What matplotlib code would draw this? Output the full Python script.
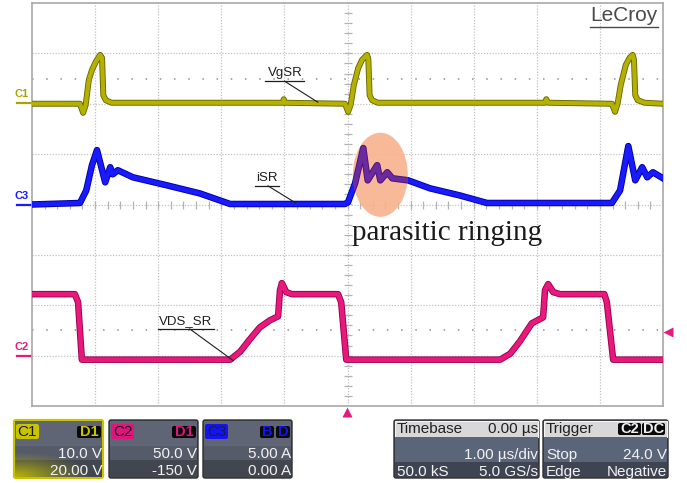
import numpy as np
import matplotlib
matplotlib.use('Agg')
import matplotlib.pyplot as plt
from matplotlib.patches import Ellipse, Rectangle, FancyBboxPatch
import matplotlib.patheffects as pe

plt.rcParams['font.family'] = ['Liberation Sans', 'DejaVu Sans']

# ---------------------------------------------------------------------------
# Waveform data (time in us, trigger at 0)
# ---------------------------------------------------------------------------
# C1: VgSR, gate voltage [V]
c1_t = [-5.0, -4.24, -4.19, -4.15, -4.10, -4.05, -3.99, -3.92, -3.89, -3.87, -3.83, -3.74,
        -1.02, -1.01, -0.99, -0.04, 0.01, 0.05, 0.10, 0.17, 0.23, 0.31, 0.33, 0.35, 0.39, 0.48,
        3.13, 3.15, 3.18, 4.19, 4.24, 4.28, 4.33, 4.41, 4.47, 4.52, 4.54, 4.56, 4.60, 4.71, 5.0]
c1_v = [0.0, 0.0, -1.8, -0.3, 4.7, 6.7, 8.3, 9.7, 9.1, 1.7, 0.7, 0.2,
        0.2, 0.9, 0.2, 0.0, -1.6, -0.2, 3.7, 7.1, 8.7, 9.7, 8.9, 1.7, 0.7, 0.2,
        0.2, 0.9, 0.2, 0.0, -1.6, 0.0, 3.7, 7.7, 9.1, 9.7, 8.7, 1.7, 0.7, 0.2, 0.0]

# C3: iSR, SR current [A]
c3_t = [-5.0, -4.24, -4.14, -4.05, -3.97, -3.84, -3.76, -3.72, -3.64, -3.40, -2.86, -2.34,
        -1.86, -0.04, 0.01, 0.12, 0.25, 0.32, 0.47, 0.52, 0.63, 0.71, 0.96, 1.31, 1.78, 2.21,
        4.19, 4.32, 4.45, 4.56, 4.67, 4.75, 4.84, 5.0]
c3_i = [0.0, 0.15, 1.4, 3.9, 5.4, 2.2, 3.7, 3.0, 3.4, 2.7, 1.9, 1.1,
        0.05, 0.05, 0.25, 2.1, 5.6, 2.4, 3.9, 2.4, 3.2, 2.6, 2.4, 1.6, 0.9, 0.15,
        0.15, 1.4, 5.8, 2.4, 3.7, 2.7, 3.2, 2.6]

# C2: VDS_SR, drain-source voltage [V]
c2_t = [-5.0, -4.32, -4.27, -4.21, -1.86, -1.70, -1.55, -1.39, -1.23, -1.10, -1.07, -1.04,
        -0.97, -0.88, -0.15, -0.10, -0.02, 2.42, 2.58, 2.73, 2.92, 3.10, 3.13, 3.18, 3.26,
        3.37, 4.07, 4.11, 4.21, 5.0]
c2_v = [61, 61, 53, -4, -4, 4, 16, 28, 35, 39, 65, 72,
        63, 61, 61, 53, -4, -4, 2, 14, 32, 38, 65, 71, 63,
        61, 61, 53, -4, -4]

# channel settings: (scale per div, offset)
ch1_scale, ch1_offset = 10.0, 20.0
ch2_scale, ch2_offset = 50.0, -150.0
ch3_scale, ch3_offset = 5.0, 0.0
trig_level = 24.0

# bottom info panels
ch_panels = [('C1', ['D1'], '10.0 V', '20.00 V'),
             ('C2', ['D1'], '50.0 V', '-150 V'),
             ('C3', ['B', 'D'], '5.00 A', '0.00 A')]


def to_div(vals, scale, offset):
    return (np.asarray(vals, dtype=float) + offset) / scale


W, H = 687, 483
fig = plt.figure(figsize=(W / 100, H / 100), dpi=100)

# background axes in pixel units (labels outside the screen, info panels)
bg = fig.add_axes([0, 0, 1, 1])
bg.axis('off')

# scope screen, 10 x 8 divisions
ax = fig.add_axes([32 / W, 1 - 406 / H, 631 / W, 403 / H])
ax.set_xlim(-5, 5)
ax.set_ylim(-4, 4)
ax.set_xticks([])
ax.set_yticks([])
for s in ax.spines.values():
    s.set_color('#a8a8a8')
    s.set_linewidth(1.2)

grid_kw = dict(color='#c2c2c2', lw=0.9, ls=(0, (1, 1.3)), zorder=1)
for gx in range(-4, 5):
    ax.axvline(gx, **grid_kw)
for gy in range(-3, 4):
    ax.axhline(gy, **grid_kw)
for gy in (2.5, -2.5):
    ax.axhline(gy, color='#a8a8a8', lw=1.4, ls=(0, (0.8, 6.5)), zorder=1)

tk = np.arange(-4.8, 4.9, 0.2)
ax.plot(tk, np.zeros_like(tk), ls='none', marker='|', ms=6, mew=0.9, color='#b4b4b4', zorder=1)
tky = np.arange(-3.8, 3.9, 0.2)
ax.plot(np.zeros_like(tky), tky, ls='none', marker='_', ms=6, mew=0.9, color='#b4b4b4', zorder=1)


def trace(x, y, color, edge, lw, z=4):
    line, = ax.plot(x, y, color=color, lw=lw, solid_joinstyle='round', zorder=z,
                    path_effects=[pe.Stroke(linewidth=lw + 1.3, foreground=edge), pe.Normal()])
    return line


trace(c1_t, to_div(c1_v, ch1_scale, ch1_offset), '#b5b100', '#6a6700', 3.0)
c3_div = to_div(c3_i, ch3_scale, ch3_offset)
trace(c3_t, c3_div, '#1a1aff', '#0000a0', 3.4)
trace(c2_t, to_div(c2_v, ch2_scale, ch2_offset), '#e8197d', '#9a0048', 3.4)

# parasitic ringing highlight
ell = Ellipse((0.52, 0.59), 0.87, 1.67, fc='#f7b28c', ec='none', alpha=0.9, zorder=5)
ax.add_patch(ell)
purple = trace(c3_t, c3_div, '#6b2aa0', '#4a1278', 3.4, z=6)
purple.set_clip_path(ell)

ax.text(0.07, -0.70, 'parasitic ringing', family=['Liberation Serif', 'DejaVu Serif'],
        fontsize=21, ha='left', va='baseline', color='#1a1a1a', zorder=7)

# signal labels with leaders
lab_kw = dict(fontsize=9.5, color='#1e1e1e', ha='center', va='bottom', zorder=7)
ax.text(-0.99, 2.49, 'VgSR', **lab_kw)
ax.plot([-1.31, -0.69], [2.45, 2.45], color='#1e1e1e', lw=0.9, zorder=7)
ax.plot([-1.00, -0.47], [2.45, 2.03], color='#1e1e1e', lw=0.8, zorder=7)

ax.text(-1.28, 0.41, 'iSR', **lab_kw)
ax.plot([-1.47, -1.09], [0.37, 0.37], color='#1e1e1e', lw=0.9, zorder=7)
ax.plot([-1.26, -0.82], [0.37, 0.03], color='#1e1e1e', lw=0.8, zorder=7)

ax.text(-2.56, -2.43, 'VDS_SR', **lab_kw)
ax.plot([-3.0, -2.11], [-2.47, -2.47], color='#1e1e1e', lw=0.9, zorder=7)
ax.plot([-2.50, -1.81], [-2.47, -3.10], color='#1e1e1e', lw=0.8, zorder=7)

ax.text(4.92, 3.56, 'LeCroy', fontsize=15, color='#4a4a4a', ha='right', va='bottom', zorder=7)
ax.plot([3.84, 4.92], [3.52, 3.52], color='#4a4a4a', lw=1.0, zorder=7)

# ---------------------------------------------------------------------------
# labels outside the screen (pixel coordinates)
# ---------------------------------------------------------------------------
for name, col, ypix in [('C1', '#a8a400', 103), ('C3', '#1a1aff', 205), ('C2', '#e8197d', 356)]:
    bg.text(22, ypix - 4, name, fontsize=8, fontweight='bold', color=col,
            ha='center', va='bottom')
    bg.plot([17, 32], [ypix, ypix], color=col, lw=1.6)

# trigger level / position markers
bg.plot([668], [332], marker='<', ms=7, color='#e8197d', mec='none')
bg.plot([347], [412], marker='^', ms=7, color='#e8197d', mec='none')

# ---------------------------------------------------------------------------
# info panels
# ---------------------------------------------------------------------------
ch_colors = ['#c8c400', '#e0147c', '#1414f0']
ch_x = [(14, 103), (109, 198), (203, 292)]
y0, y1 = 420, 478
txt_kw = dict(fontsize=11, color='#f2f2f2', va='center')

for (name, badges, v1, v2), col, (x0, x1) in zip(ch_panels, ch_colors, ch_x):
    bg.add_patch(FancyBboxPatch((x0, y0), x1 - x0, y1 - y0, boxstyle='round,pad=0,rounding_size=2',
                                fc='#4e5462', ec=col if name == 'C1' else '#2c2c2c',
                                lw=1.6 if name == 'C1' else 1.0, zorder=2))
    bg.add_patch(Rectangle((x0 + 1, y0 + 1), x1 - x0 - 2, 25, fc='#5f6574', ec='none', zorder=2))
    bg.add_patch(Rectangle((x0 + 1, 446), x1 - x0 - 2, 14, fc='#555b68', ec='none', zorder=2))
    bg.add_patch(Rectangle((x0 + 1, 460), x1 - x0 - 2, y1 - 461, fc='#41464f', ec='none', zorder=2))
    if name == 'C1':
        gx, gy = np.meshgrid(np.linspace(0, 1, 60), np.linspace(0, 1, 40))
        a = np.clip(1 - np.hypot(gx * 1.1, (1 - gy) * 1.5), 0, 1) ** 1.2 * 0.9
        img = np.zeros((40, 60, 4))
        img[..., 0], img[..., 1], img[..., 2], img[..., 3] = 0.78, 0.76, 0.0, a
        bg.imshow(img, extent=[x0 + 1, x1 - 1, y1 - 1, 438], origin='upper', aspect='auto', zorder=3)
    # channel badge
    bg.add_patch(FancyBboxPatch((x0 + 2, 424), 23, 15, boxstyle='round,pad=0,rounding_size=2',
                                fc=col, ec='none', zorder=4))
    bg.text(x0 + 13.5, 431.5, name, fontsize=11, color='#1a1a40' if name == 'C3' else '#1a1a1a',
            ha='center', va='center', zorder=5)
    # source badges
    bx = x1 - 2
    for b in reversed(badges):
        bw = 24 if len(b) == 2 else 14
        bg.add_patch(FancyBboxPatch((bx - bw, 426), bw, 12, boxstyle='round,pad=0,rounding_size=2',
                                    fc='#0a0a0a', ec='none', zorder=4))
        bg.text(bx - bw / 2, 432, b, fontsize=10.5, color=col, ha='center', va='center',
                fontweight='bold', zorder=5)
        bx -= bw + 2
    bg.text(x1 - 1, 454, v1, ha='right', zorder=5, **txt_kw)
    bg.text(x1 - 1, 471, v2, ha='right', zorder=5, **txt_kw)


def info_panel(x0, x1, head_l, head_r, rows):
    bg.add_patch(FancyBboxPatch((x0, y0), x1 - x0, y1 - y0, boxstyle='round,pad=0,rounding_size=2',
                                fc='#4a5262', ec='#2c2c2c', lw=1.0, zorder=2))
    bg.add_patch(Rectangle((x0 + 1, 421), x1 - x0 - 2, 16, fc='#d8d8d8', ec='#f4f4f4', lw=0.8, zorder=2))
    bg.add_patch(Rectangle((x0 + 1, 437), x1 - x0 - 2, 25, fc='#5b6579', ec='none', zorder=2))
    bg.add_patch(Rectangle((x0 + 1, 462), x1 - x0 - 2, y1 - 463, fc='#3e4452', ec='none', zorder=2))
    bg.text(x0 + 3, 429, head_l, fontsize=11, color='#202020', ha='left', va='center', zorder=5)
    if head_r:
        bg.text(x1 - 1, 429, head_r, fontsize=11, color='#202020', ha='right', va='center', zorder=5)
    for (left, right), yy in zip(rows, (455, 472)):
        if left:
            bg.text(x0 + 3, yy, left, ha='left', zorder=5, **txt_kw)
        if right:
            bg.text(x1 - 1, yy, right, ha='right', zorder=5, **txt_kw)


info_panel(394, 539, 'Timebase', '0.00 µs', [('', '1.00 µs/div'), ('50.0 kS', '5.0 GS/s')])
info_panel(543, 668, 'Trigger', None, [('Stop', '24.0 V'), ('Edge', 'Negative')])
for b, bx in [('C2', 618), ('DC', 642)]:
    bg.add_patch(FancyBboxPatch((bx, 423), 23, 12, boxstyle='round,pad=0,rounding_size=2',
                                fc='#0a0a0a', ec='none', zorder=4))
    bg.text(bx + 11.5, 429, b, fontsize=10.5, color='#f0f0f0', ha='center', va='center',
            fontweight='bold', zorder=5)

bg.set_xlim(0, W)
bg.set_ylim(H, 0)

fig.savefig('out.png', dpi=100)
